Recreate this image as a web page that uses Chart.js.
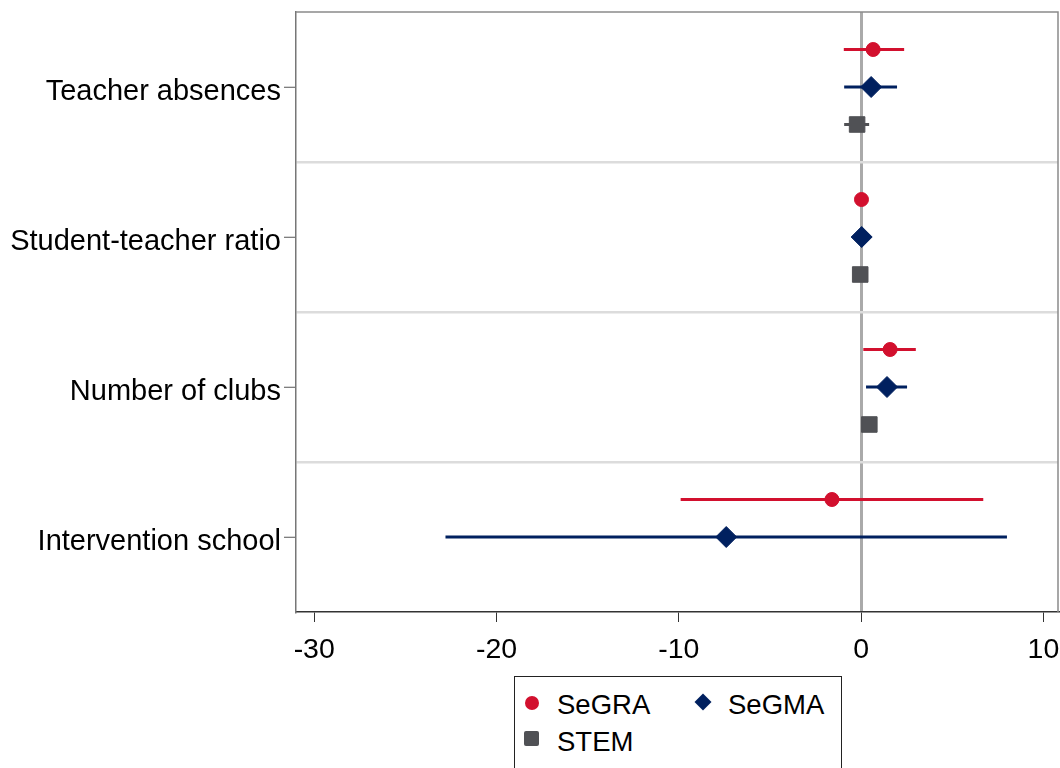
<!DOCTYPE html>
<html>
<head>
<meta charset="utf-8">
<script src="https://cdn.jsdelivr.net/npm/chart.js@4.4.1/dist/chart.umd.min.js"></script>
<style>
  html, body { margin: 0; padding: 0; background: #fff; }
  #wrap { position: relative; width: 1060px; height: 768px; overflow: hidden; }
  #legend {
    position: absolute; left: 514px; top: 676px; width: 326px; height: 110px;
    border: 1px solid #222; background: #fff;
    font-family: "Liberation Sans", Arial, sans-serif; font-size: 27.5px; color: #000;
  }
  .item { position: absolute; height: 30px; line-height: 30px; white-space: nowrap; }
  .mark { position: absolute; top: 50%; }
  .txt { position: absolute; left: 37px; top: 0; }
</style>
</head>
<body>
<div id="wrap">
  <canvas id="coefChart"></canvas>
  <div id="legend"></div>
</div>
<script>
// Coefficient plot: estimates with confidence intervals
const categories = ["Teacher absences", "Student-teacher ratio", "Number of clubs", "Intervention school"];

const segraEst = [0.66, 0.02, 1.59, -1.6];
const segraLo = [-0.95, -0.25, 0.12, -9.9];
const segraHi = [2.36, 0.3, 3.0, 6.7];

const segmaEst = [0.55, 0.03, 1.42, -7.4];
const segmaLo = [-0.93, -0.25, 0.27, -22.8];
const segmaHi = [1.97, 0.3, 2.52, 8.0];

const stemEst = [-0.22, -0.05, 0.45, null];
const stemLo = [-0.93, -0.3, 0.2, null];
const stemHi = [0.44, 0.2, 0.7, null];

const xTicks = [-30, -20, -10, 0, 10];

const series = [
  { label: "SeGRA", est: segraEst, lo: segraLo, hi: segraHi, color: "#d2102e", style: "circle", radius: 7 },
  { label: "SeGMA", est: segmaEst, lo: segmaLo, hi: segmaHi, color: "#00205f", style: "rectRot", radius: 10.5 },
  { label: "STEM", est: stemEst, lo: stemLo, hi: stemHi, color: "#505155", style: "rect", radius: 11 },
];

// vertical shift of each series inside a category band
const rowShift = [-0.25, 0, 0.25];

const FONT = "'Liberation Sans', Arial, sans-serif";

const datasets = [];
series.forEach((s, k) => {
  const pts = [];
  categories.forEach((c, i) => {
    if (s.est[i] == null) return;
    const y = i + rowShift[k];
    pts.push({ x: s.est[i], y });
    datasets.push({
      type: "line",
      label: s.label + " CI",
      data: [{ x: s.lo[i], y }, { x: s.hi[i], y }],
      borderColor: s.color,
      borderWidth: 3,
      pointRadius: 0,
      showLine: true,
      order: 1,
    });
  });
  datasets.push({
    type: "scatter",
    label: s.label,
    data: pts,
    pointStyle: s.style,
    pointRadius: s.radius,
    pointBackgroundColor: s.color,
    pointBorderColor: s.color,
    pointBorderWidth: 1,
    order: 0,
    isMarker: true,
  });
});

// y ticks: category centres plus band separators
const yTickValues = [];
for (let i = -0.5; i <= categories.length - 0.5; i += 0.5) yTickValues.push(i);
const isSeparator = (v) => v > -0.5 && v < categories.length - 0.5 && !Number.isInteger(v);

// top + right edges of the plot frame
const frameBox = {
  id: "frameBox",
  afterDraw(chart) {
    const { ctx, chartArea: a } = chart;
    ctx.save();
    ctx.strokeStyle = "#8a8a8a";
    ctx.lineWidth = 1.5;
    ctx.beginPath();
    ctx.moveTo(a.left, a.top);
    ctx.lineTo(a.right, a.top);
    ctx.lineTo(a.right, a.bottom);
    ctx.stroke();
    ctx.restore();
  },
};

const chart = new Chart(document.getElementById("coefChart"), {
  type: "scatter",
  data: { datasets },
  options: {
    responsive: true,
    maintainAspectRatio: false,
    animation: false,
    layout: { autoPadding: false, padding: { top: 12, right: 2, left: 0, bottom: 0 } },
    scales: {
      x: {
        type: "linear",
        min: -31,
        max: 10.8,
        afterBuildTicks: (s) => { s.ticks = xTicks.map((v) => ({ value: v })); },
        afterFit: (s) => { s.height = 156; s.paddingLeft = 0; s.paddingRight = 0; },
        ticks: {
          color: "#000",
          padding: 11,
          font: { family: FONT, size: 28.5 },
          callback: (v) => String(v),
        },
        grid: {
          color: (c) => (c.tick && c.tick.value === 0 ? "#aaaaaa" : "rgba(0,0,0,0)"),
          lineWidth: 3,
          tickColor: "#333",
          tickLength: 10,
          tickWidth: 1,
        },
        border: { color: "#333", width: 1.5 },
      },
      y: {
        type: "linear",
        reverse: true,
        min: -0.5,
        max: categories.length - 0.5,
        afterBuildTicks: (s) => { s.ticks = yTickValues.map((v) => ({ value: v })); },
        afterFit: (s) => { s.width = 296; s.paddingTop = 0; s.paddingBottom = 0; },
        ticks: {
          autoSkip: false,
          color: "#000",
          padding: 3,
          labelOffset: 5,
          font: { family: FONT, size: 29 },
          callback: (v) => (Number.isInteger(v) ? categories[v] : ""),
        },
        grid: {
          color: (c) => (c.tick && isSeparator(c.tick.value) ? "#dcdcdc" : "rgba(0,0,0,0)"),
          lineWidth: 2.5,
          tickColor: (c) => (c.tick && Number.isInteger(c.tick.value) ? "#555" : "rgba(0,0,0,0)"),
          tickLength: 12,
          tickWidth: 1,
        },
        border: { color: "#777", width: 1.5 },
      },
    },
    plugins: {
      legend: { display: false },
      tooltip: { enabled: false },
    },
  },
  plugins: [frameBox],
});

// html legend built from the marker datasets
const legendEl = document.getElementById("legend");
chart.data.datasets.filter((d) => d.isMarker).forEach((d, i) => {
  const col = i % 2, row = Math.floor(i / 2);
  const item = document.createElement("div");
  item.className = "item";
  item.style.left = (5 + col * 171) + "px";
  item.style.top = (13 + row * 37) + "px";
  const mark = document.createElement("span");
  mark.className = "mark";
  const c = d.pointBackgroundColor;
  if (d.pointStyle === "circle") {
    mark.style.cssText += `width:14px;height:14px;border-radius:50%;background:${c};left:5px;margin-top:-9px;`;
  } else if (d.pointStyle === "rectRot") {
    mark.style.cssText += `width:12px;height:12px;background:${c};left:6px;margin-top:-9px;transform:rotate(45deg);`;
  } else {
    mark.style.cssText += `width:15px;height:15px;border-radius:2px;background:${c};left:4px;margin-top:-11px;`;
  }
  const txt = document.createElement("span");
  txt.className = "txt";
  txt.textContent = d.label;
  item.appendChild(mark);
  item.appendChild(txt);
  legendEl.appendChild(item);
});
</script>
</body>
</html>
